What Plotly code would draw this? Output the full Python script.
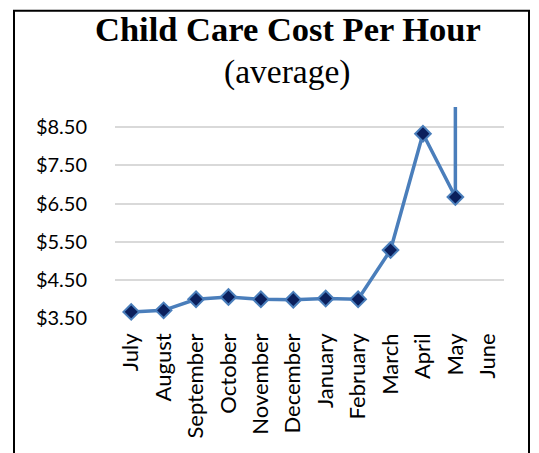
import plotly.graph_objects as go

months = ["July", "August", "September", "October", "November", "December",
          "January", "February", "March", "April", "May", "June"]
cost = [3.66, 3.70, 3.99, 4.05, 3.99, 3.98, 4.01, 3.99, 5.28, 8.33, 6.67, None]
spike_x = ["May", "May"]
spike_y = [6.67, 9.1]
y_ticks = [3.5, 4.5, 5.5, 6.5, 7.5, 8.5]
y_tick_text = ["$3.50", "$4.50", "$5.50", "$6.50", "$7.50", "$8.50"]

OFF = 8  # page body margin
W, H = 539 - OFF, 453 - OFF
L, R, T, B = 115 - OFF, 504 - OFF, 106.5 - OFF, 318.3 - OFF

def px(x):
    return (x - OFF - L) / (R - L)

def py(y):
    return (B - (y - OFF)) / (B - T)

fig = go.Figure()
fig.add_trace(go.Scatter(x=spike_x, y=spike_y, mode="lines",
                         line=dict(color="#4A7EBB", width=3.5), hoverinfo="skip"))
fig.add_trace(go.Scatter(x=months, y=cost, mode="lines+markers",
                         line=dict(color="#4A7EBB", width=3.5),
                         marker=dict(symbol="diamond", size=12, color="#0B1F5C",
                                     line=dict(color="#4A7EBB", width=2)),
                         cliponaxis=False))

fig.update_layout(
    width=W, height=H,
    margin=dict(l=L, r=W - R, t=T, b=H - B),
    paper_bgcolor="white", plot_bgcolor="white",
    showlegend=False,
    font=dict(family="Lato", size=19, color="#000000"),
    xaxis=dict(type="category", categoryorder="array", categoryarray=months,
               range=[-0.5, 11.5], tickangle=-90, showgrid=False, zeroline=False,
               showline=False, ticks="", ticklabelstandoff=10,
               tickfont=dict(family="Lato", size=22)),
    yaxis=dict(range=[3.5, 3.5 + (B - T) / 38.3], tickvals=y_ticks, ticktext=y_tick_text,
               showgrid=True, gridcolor="#D9D9D9", gridwidth=1.5, zeroline=False,
               showline=False, ticks="", ticklabelstandoff=27,
               tickfont=dict(family="Lato", size=20)),
    shapes=[
        dict(type="rect", xref="paper", yref="paper", x0=px(14), x1=px(529), y0=py(10), y1=py(H + 40),
             line=dict(color="#000000", width=2), layer="below"),
    ],
    annotations=[
        dict(text="<b>Child Care Cost Per Hour</b>", xref="paper", yref="paper",
             x=px(288), y=py(49), xanchor="center", yanchor="bottom", showarrow=False,
             font=dict(family="Liberation Serif", size=34.5, color="#000000")),
        dict(text="(average)", xref="paper", yref="paper",
             x=px(287), y=py(92), xanchor="center", yanchor="bottom", showarrow=False,
             font=dict(family="Liberation Serif", size=33.5, color="#000000")),
    ],
)

fig.write_html("out.html")
